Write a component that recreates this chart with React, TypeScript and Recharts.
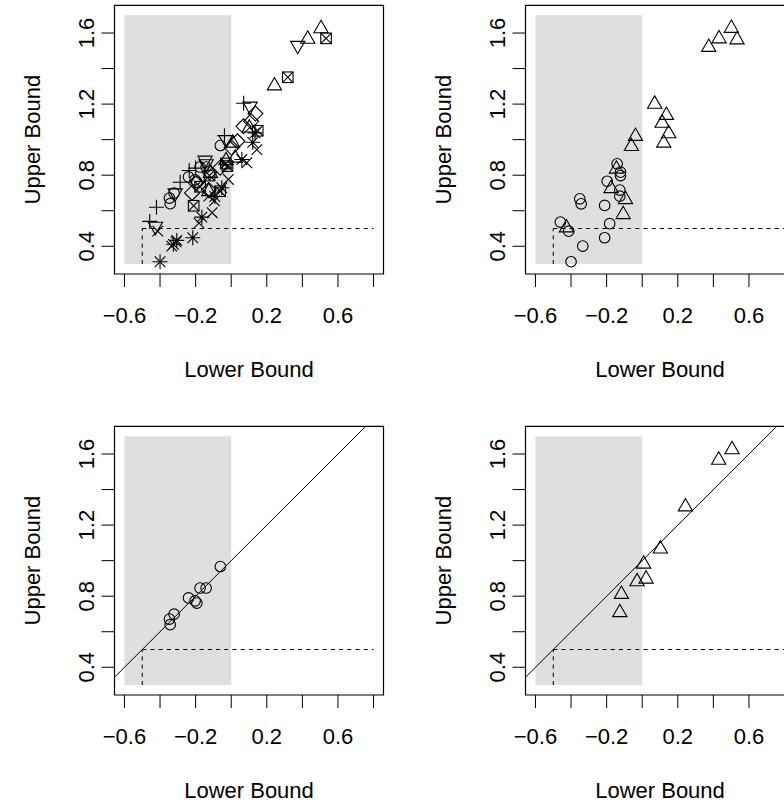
import React from 'react';
import { ScatterChart, Scatter, XAxis, YAxis, ReferenceArea, ReferenceLine, Label } from 'recharts';

const FONT = '"Liberation Sans", Arial, Helvetica, sans-serif';

const X_TICKS = [-0.6, -0.4, -0.2, 0, 0.2, 0.4, 0.6, 0.8];
const X_TICK_LABELS = ['−0.6', '', '−0.2', '', '0.2', '', '0.6', ''];
const Y_TICKS = [0.4, 0.6, 0.8, 1.0, 1.2, 1.4, 1.6];
const Y_TICK_LABELS = ['0.4', '', '0.8', '', '1.2', '', '1.6'];

// group, one pch each
const CIRCLE_LO = [-0.061, -0.175, -0.141, -0.24, -0.203, -0.193, -0.321, -0.347, -0.343];
const CIRCLE_HI = [0.967, 0.846, 0.846, 0.79, 0.774, 0.761, 0.699, 0.671, 0.64];
const TRI_LO = [0.505, 0.43, 0.243, 0.102, 0.008, 0.022, -0.029, -0.117, -0.126];
const TRI_HI = [1.625, 1.566, 1.303, 1.066, 0.981, 0.897, 0.882, 0.811, 0.708];
const PLUS_LO = [0.07, -0.038, -0.2, -0.236, -0.287, -0.42, -0.458];
const PLUS_HI = [1.205, 1.022, 0.84, 0.826, 0.76, 0.62, 0.54];
const CROSS_LO = [0.144, 0.088, -0.016, -0.126, -0.094, -0.107, -0.181, -0.31, -0.334, -0.413];
const CROSS_HI = [0.944, 0.87, 0.776, 0.682, 0.656, 0.589, 0.53, 0.425, 0.401, 0.485];
const DIAMOND_LO = [0.136, 0.112, 0.069, 0.035, 0.003, -0.062, -0.122, -0.126, -0.2, -0.22];
const DIAMOND_HI = [1.147, 1.103, 1.075, 0.991, 0.954, 0.842, 0.817, 0.716, 0.757, 0.7];
const DOWN_LO = [0.374, 0.106, -0.029, -0.141, -0.147, -0.315, -0.426];
const DOWN_HI = [1.53, 1.188, 1.0, 0.864, 0.884, 0.7, 0.512];
const SQX_LO = [0.533, 0.318, 0.149, -0.021, -0.03, -0.062, -0.122, -0.175, -0.211];
const SQX_HI = [1.57, 1.351, 1.05, 0.851, 0.866, 0.71, 0.798, 0.735, 0.628];
const STAR_LO = [0.121, 0.134, 0.06, -0.053, -0.092, -0.165, -0.216, -0.306, -0.325, -0.4];
const STAR_HI = [0.985, 1.038, 0.888, 0.729, 0.68, 0.564, 0.448, 0.433, 0.411, 0.313];

// top-right panel
const P2_CIRCLE_LO = [-0.141, -0.122, -0.122, -0.197, -0.126, -0.126, -0.351, -0.343, -0.211, -0.46, -0.413, -0.183, -0.211, -0.334, -0.4];
const P2_CIRCLE_HI = [0.864, 0.817, 0.798, 0.766, 0.716, 0.682, 0.667, 0.639, 0.63, 0.536, 0.485, 0.527, 0.448, 0.401, 0.313];
const P2_TRI_LO = [0.501, 0.432, 0.533, 0.374, 0.07, 0.136, 0.112, 0.149, 0.121, -0.038, -0.061, -0.145, -0.175, -0.094, -0.107, -0.426];
const P2_TRI_HI = [1.627, 1.568, 1.562, 1.52, 1.2, 1.137, 1.093, 1.034, 0.981, 1.019, 0.962, 0.835, 0.725, 0.663, 0.579, 0.504];

const zip = (lo: number[], hi: number[]) => lo.map((x, i) => ({ x, y: hi[i] }));

// panel geometry (px, inside each chart)
const CW = 411;
const CH = 421;
const BOX_L = 114.5;
const BOX_R = 383.5;
const BOX_T = 5.3;
const BOX_B = 274;
const X_DOMAIN = [-0.656, 0.856];
const Y_DOMAIN = [0.244, 1.756];

const R = 5.3; // symbol radius
const SW = 1.1;

function Pch({ cx, cy, pch }: { cx: number; cy: number; pch: number }) {
  if (cx == null || cy == null) return null;
  const st = { fill: 'none', stroke: '#000', strokeWidth: SW };
  const d = R * Math.SQRT2;
  if (pch === 1) return <circle cx={cx} cy={cy} r={R} {...st} />;
  if (pch === 2 || pch === 6) {
    const r = 1.5551 * R;
    const yc = 0.7776 * R;
    const xc = 1.3468 * R;
    const s = pch === 2 ? 1 : -1;
    return (
      <polygon
        points={`${cx},${cy - s * r} ${cx + xc},${cy + s * yc} ${cx - xc},${cy + s * yc}`}
        {...st}
      />
    );
  }
  if (pch === 3)
    return <path d={`M${cx - d},${cy}H${cx + d}M${cx},${cy - d}V${cy + d}`} {...st} />;
  if (pch === 4)
    return <path d={`M${cx - R},${cy - R}L${cx + R},${cy + R}M${cx - R},${cy + R}L${cx + R},${cy - R}`} {...st} />;
  if (pch === 5)
    return <polygon points={`${cx},${cy - d} ${cx + d},${cy} ${cx},${cy + d} ${cx - d},${cy}`} {...st} />;
  if (pch === 7)
    return (
      <g>
        <rect x={cx - R} y={cy - R} width={2 * R} height={2 * R} {...st} />
        <path d={`M${cx - R},${cy - R}L${cx + R},${cy + R}M${cx - R},${cy + R}L${cx + R},${cy - R}`} {...st} />
      </g>
    );
  // pch 8
  return (
    <path
      d={`M${cx - R},${cy - R}L${cx + R},${cy + R}M${cx - R},${cy + R}L${cx + R},${cy - R}M${cx - d},${cy}H${cx + d}M${cx},${cy - d}V${cy + d}`}
      {...st}
    />
  );
}

const shapeFor = (pch: number) => (p: any) => <Pch cx={p.cx} cy={p.cy} pch={pch} />;

function XTick(props: any) {
  const v = props.payload?.value;
  const i = X_TICKS.findIndex((t) => Math.abs(t - v) < 1e-6);
  const lab = i >= 0 ? X_TICK_LABELS[i] : '';
  if (!lab) return null;
  return (
    <text x={props.x} y={BOX_B + 49.3} textAnchor="middle" fontSize={22} fontFamily={FONT} fill="#000">
      {lab}
    </text>
  );
}

function YTick(props: any) {
  const v = props.payload?.value;
  const i = Y_TICKS.findIndex((t) => Math.abs(t - v) < 1e-6);
  const lab = i >= 0 ? Y_TICK_LABELS[i] : '';
  if (!lab) return null;
  const x = 87;
  return (
    <text
      x={x}
      y={props.y}
      transform={`rotate(-90 ${x} ${props.y})`}
      textAnchor="middle"
      dominantBaseline="central"
      fontSize={22}
      fontFamily={FONT}
      fill="#000"
    >
      {lab}
    </text>
  );
}

type Series = { data: { x: number; y: number }[]; pch: number };

function Panel({ series, diagonal }: { series: Series[]; diagonal?: boolean }) {
  return (
    <ScatterChart
      width={CW}
      height={CH}
      margin={{ top: BOX_T, left: BOX_L - 60, right: CW - BOX_R, bottom: CH - BOX_B - 60 }}
    >
      <XAxis
        type="number"
        dataKey="x"
        domain={X_DOMAIN}
        ticks={X_TICKS}
        interval={0}
        allowDataOverflow
        height={60}
        tickSize={13}
        axisLine={false}
        tickLine={{ stroke: '#000', strokeWidth: 1 }}
        tick={(p: any) => <XTick {...p} />}
      >
        <Label
          content={() => (
            <text x={(BOX_L + BOX_R) / 2} y={BOX_B + 103.3} textAnchor="middle" fontSize={22} fontFamily={FONT} fill="#000">
              Lower Bound
            </text>
          )}
        />
      </XAxis>
      <YAxis
        type="number"
        dataKey="y"
        domain={Y_DOMAIN}
        ticks={Y_TICKS}
        interval={0}
        allowDataOverflow
        width={60}
        tickSize={13}
        axisLine={false}
        tickLine={{ stroke: '#000', strokeWidth: 1 }}
        tick={(p: any) => <YTick {...p} />}
      >
        <Label
          content={() => (
            <text
              x={33}
              y={(BOX_T + BOX_B) / 2}
              transform={`rotate(-90 33 ${(BOX_T + BOX_B) / 2})`}
              textAnchor="middle"
              dominantBaseline="central"
              fontSize={22}
              fontFamily={FONT}
              fill="#000"
            >
              Upper Bound
            </text>
          )}
        />
      </YAxis>
      <ReferenceArea x1={-0.6} x2={0} y1={0.3} y2={1.7} fill="#dfdfdf" fillOpacity={1} stroke="none" />
      <ReferenceLine
        segment={[{ x: -0.5, y: 0.3 }, { x: -0.5, y: 0.5 }]}
        stroke="#000"
        strokeWidth={1}
        strokeDasharray="4.1 4.1"
      />
      <ReferenceLine
        segment={[{ x: -0.5, y: 0.5 }, { x: 0.8, y: 0.5 }]}
        stroke="#000"
        strokeWidth={1}
        strokeDasharray="4.1 4.1"
      />
      {diagonal && (
        <ReferenceLine
          segment={[{ x: -0.656, y: 0.344 }, { x: 0.756, y: 1.756 }]}
          stroke="#000"
          strokeWidth={1}
        />
      )}
      {series.map((s, i) => (
        <Scatter key={i} data={s.data} shape={shapeFor(s.pch)} isAnimationActive={false} />
      ))}
      <ReferenceArea
        x1={X_DOMAIN[0]}
        x2={X_DOMAIN[1]}
        y1={Y_DOMAIN[0]}
        y2={Y_DOMAIN[1]}
        fill="none"
        stroke="#000"
        strokeWidth={1.2}
      />
    </ScatterChart>
  );
}

export default function App() {
  const topLeft: Series[] = [
    { data: zip(CIRCLE_LO, CIRCLE_HI), pch: 1 },
    { data: zip(TRI_LO, TRI_HI), pch: 2 },
    { data: zip(PLUS_LO, PLUS_HI), pch: 3 },
    { data: zip(CROSS_LO, CROSS_HI), pch: 4 },
    { data: zip(DIAMOND_LO, DIAMOND_HI), pch: 5 },
    { data: zip(DOWN_LO, DOWN_HI), pch: 6 },
    { data: zip(SQX_LO, SQX_HI), pch: 7 },
    { data: zip(STAR_LO, STAR_HI), pch: 8 },
  ];
  const topRight: Series[] = [
    { data: zip(P2_CIRCLE_LO, P2_CIRCLE_HI), pch: 1 },
    { data: zip(P2_TRI_LO, P2_TRI_HI), pch: 2 },
  ];
  const pos = (left: number, top: number): React.CSSProperties => ({ position: 'absolute', left, top });
  return (
    <div
      style={{
        position: 'absolute',
        left: 0,
        top: 0,
        width: 784,
        height: 804,
        overflow: 'hidden',
        background: '#fff',
        fontFamily: FONT,
      }}
    >
      <div style={pos(0, 0)}>
        <Panel series={topLeft} />
      </div>
      <div style={pos(410.7, 0)}>
        <Panel series={topRight} />
      </div>
      <div style={pos(0, 420.7)}>
        <Panel series={[{ data: zip(CIRCLE_LO, CIRCLE_HI), pch: 1 }]} diagonal />
      </div>
      <div style={pos(410.7, 420.7)}>
        <Panel series={[{ data: zip(TRI_LO, TRI_HI), pch: 2 }]} diagonal />
      </div>
    </div>
  );
}
